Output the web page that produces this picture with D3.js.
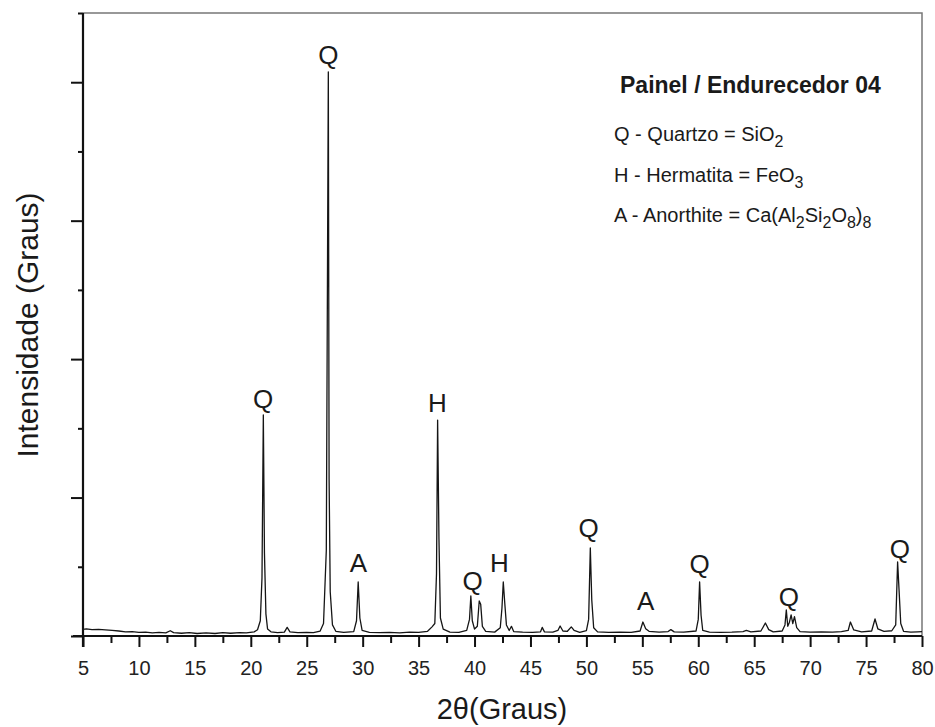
<!DOCTYPE html>
<html>
<head>
<meta charset="utf-8">
<script src="https://cdn.jsdelivr.net/npm/d3@7"></script>
<style>
  body { margin: 0; background: #fff; }
  text { font-family: "Liberation Sans", Arial, sans-serif; fill: #1a1a1a; }
</style>
</head>
<body>
<svg id="chart" width="935" height="727"></svg>
<script>
// XRD pattern: [2theta, intensity (a.u.)]
const pattern = [
  [5.0,48],[5.3,52],[5.8,46],[6.4,48],[7.0,44],[7.6,40],[8.2,36],[8.8,30],[9.4,32],[10.0,26],
  [10.6,28],[11.2,22],[11.8,26],[12.4,22],[12.8,38],[13.1,24],[13.8,20],[14.5,24],[15.2,18],[16.0,22],
  [16.8,18],[17.5,24],[18.2,20],[19.0,24],[19.6,22],[20.3,30],[20.6,45],[20.85,110],[21.0,420],[21.12,1597],
  [21.22,600],[21.35,160],[21.5,50],[21.8,30],[22.4,24],[23.0,28],[23.25,62],[23.5,30],[24.2,24],[25.0,26],
  [25.6,24],[26.2,36],[26.5,90],[26.75,620],[26.93,4075],[27.0,1130],[27.1,320],[27.3,80],[27.6,34],[28.3,26],
  [29.2,32],[29.45,110],[29.6,390],[29.75,130],[29.95,40],[30.6,26],[31.5,24],[32.4,26],[33.3,22],[34.2,28],
  [35.0,26],[35.8,34],[36.2,66],[36.45,90],[36.6,450],[36.7,1560],[36.82,700],[36.95,130],[37.2,50],[37.8,28],
  [38.6,26],[39.3,40],[39.55,120],[39.67,289],[39.8,110],[40.0,50],[40.25,70],[40.42,253],[40.55,230],[40.7,70],
  [41.0,34],[41.8,28],[42.3,60],[42.45,200],[42.57,390],[42.7,240],[42.85,80],[43.1,40],[43.3,70],[43.5,32],
  [44.3,28],[45.2,26],[45.9,30],[46.05,62],[46.25,30],[47.0,28],[47.45,40],[47.65,72],[47.9,36],[48.3,34],
  [48.65,66],[48.9,40],[49.4,26],[50.0,38],[50.2,120],[50.35,636],[50.48,260],[50.65,60],[51.0,30],[52.0,26],
  [53.0,28],[54.0,26],[54.8,36],[55.05,101],[55.3,52],[55.6,34],[56.5,28],[57.3,32],[57.55,46],[57.85,30],
  [58.7,28],[59.8,36],[60.0,120],[60.12,390],[60.25,150],[60.4,40],[61.0,28],[62.0,26],[63.0,28],[64.0,32],
  [64.3,40],[64.7,30],[65.6,36],[66.0,94],[66.3,46],[66.7,30],[67.5,36],[67.75,80],[67.87,188],[68.0,70],
  [68.15,100],[68.3,152],[68.45,90],[68.6,140],[68.8,60],[69.1,32],[70.0,28],[71.0,30],[72.0,28],[72.8,32],
  [73.4,40],[73.6,101],[73.9,44],[74.6,30],[75.5,36],[75.8,123],[76.05,52],[76.6,34],[77.3,38],[77.65,80],
  [77.82,535],[77.95,330],[78.1,90],[78.35,34],[79.0,28],[79.6,30],[80.0,32]
]

// phase labels above the peaks
const peakNames = ['Q', 'Q', 'A', 'H', 'Q', 'H', 'Q', 'A', 'Q', 'Q', 'Q']
const peakAt = [21.11, 26.93, 29.61, 36.68, 39.82, 42.23, 50.2, 55.3, 60.13, 68.1, 78.03]
const peakTextLevel = [1647, 4133, 462, 1618, 332, 462, 715, 188, 455, 217, 564]

const xMajor = [5, 10, 15, 20, 25, 30, 35, 40, 45, 50, 55, 60, 65, 70, 75, 80]
const xMinor = [7.5, 12.5, 17.5, 22.5, 27.5, 32.5, 37.5, 42.5, 47.5, 52.5, 57.5, 62.5, 67.5, 72.5, 77.5]
const yMajor = [0, 1000, 2000, 3000, 4000]
const yMinor = [500, 1500, 2500, 3500, 4500]

const legendTitle = 'Painel / Endurecedor 04'
// each entry: [text, isSubscript]
const legendLines = [
  [['Q - Quartzo = SiO', 0], ['2', 1]],
  [['H - Hermatita = FeO', 0], ['3', 1]],
  [['A - Anorthite = Ca(Al', 0], ['2', 1], ['Si', 0], ['2', 1], ['O', 0], ['8', 1], [')', 0], ['8', 1]]
]

const margin = { top: 13, right: 13, bottom: 91, left: 83 }
const width = 935, height = 727

const svg = d3.select('#chart')

const x = d3.scaleLinear().domain([5, 80]).range([margin.left, width - margin.right])
const y = d3.scaleLinear().domain([0, 4500]).range([height - margin.bottom, margin.top])

// frame (top & right, thin grey)
svg.append('path')
  .attr('d', `M${x(5)},${y(4500)}H${x(80)}V${y(0)}`)
  .attr('fill', 'none').attr('stroke', '#777').attr('stroke-width', 1.5)

// x axis
const xMinorG = svg.append('g')
  .attr('transform', `translate(0,${y(0)})`)
  .call(d3.axisBottom(x).tickValues(xMinor).tickSize(7).tickFormat(''))
xMinorG.select('.domain').remove()

const xAxisG = svg.append('g')
  .attr('transform', `translate(0,${y(0)})`)
  .call(d3.axisBottom(x).tickValues(xMajor).tickSize(11).tickPadding(14).tickFormat(d3.format('d')))
xAxisG.select('.domain').remove()
xAxisG.selectAll('text').attr('font-size', 20).style('fill', '#222')

// y axis (no labels)
const yMinorG = svg.append('g')
  .attr('transform', `translate(${x(5)},0)`)
  .call(d3.axisLeft(y).tickValues(yMinor).tickSize(5).tickFormat(''))
yMinorG.select('.domain').remove()
const yAxisG = svg.append('g')
  .attr('transform', `translate(${x(5)},0)`)
  .call(d3.axisLeft(y).tickValues(yMajor).tickSize(12).tickFormat(''))
yAxisG.select('.domain').remove()

svg.selectAll('.tick line').attr('stroke', '#111').attr('stroke-width', 2)

// axis lines
svg.append('line')
  .attr('x1', x(5) - 10).attr('x2', x(80)).attr('y1', y(0)).attr('y2', y(0))
  .attr('stroke', '#111').attr('stroke-width', 2.2)
svg.append('line')
  .attr('x1', x(5)).attr('x2', x(5)).attr('y1', y(0) + 11).attr('y2', y(4500))
  .attr('stroke', '#111').attr('stroke-width', 2.2)

// the diffractogram
const line = d3.line().x(d => x(d[0])).y(d => y(d[1]))
svg.append('path')
  .datum(pattern)
  .attr('d', line)
  .attr('fill', 'none')
  .attr('stroke', '#151515')
  .attr('stroke-width', 1.3)
  .attr('stroke-linejoin', 'round')

// peak letters
svg.selectAll('.peak-label')
  .data(peakNames)
  .enter()
  .append('text')
  .attr('class', 'peak-label')
  .attr('x', (d, i) => x(peakAt[i]))
  .attr('y', (d, i) => y(peakTextLevel[i]))
  .attr('text-anchor', 'middle')
  .attr('font-size', 26)
  .text(d => d)

// axis titles
svg.append('text')
  .attr('x', 502).attr('y', 719)
  .attr('text-anchor', 'middle')
  .attr('font-size', 29)
  .text('2θ(Graus)')

svg.append('text')
  .attr('transform', 'translate(38,325) rotate(-90)')
  .attr('text-anchor', 'middle')
  .attr('font-size', 30)
  .text('Intensidade (Graus)')

// legend block
svg.append('text')
  .attr('x', 620).attr('y', 93)
  .attr('font-size', 23)
  .attr('font-weight', 'bold')
  .text(legendTitle)

const legBase = [141, 182, 222]
legendLines.forEach((parts, i) => {
  const t = svg.append('text')
    .attr('x', 614).attr('y', legBase[i])
    .attr('font-size', 20)
  let sub = 0
  parts.forEach(([s, isSub]) => {
    const shift = (isSub ? 6 : 0) - sub
    sub = isSub ? 6 : 0
    t.append('tspan')
      .attr('dy', shift)
      .attr('font-size', isSub ? 16 : 20)
      .text(s)
  })
})
</script>
</body>
</html>
